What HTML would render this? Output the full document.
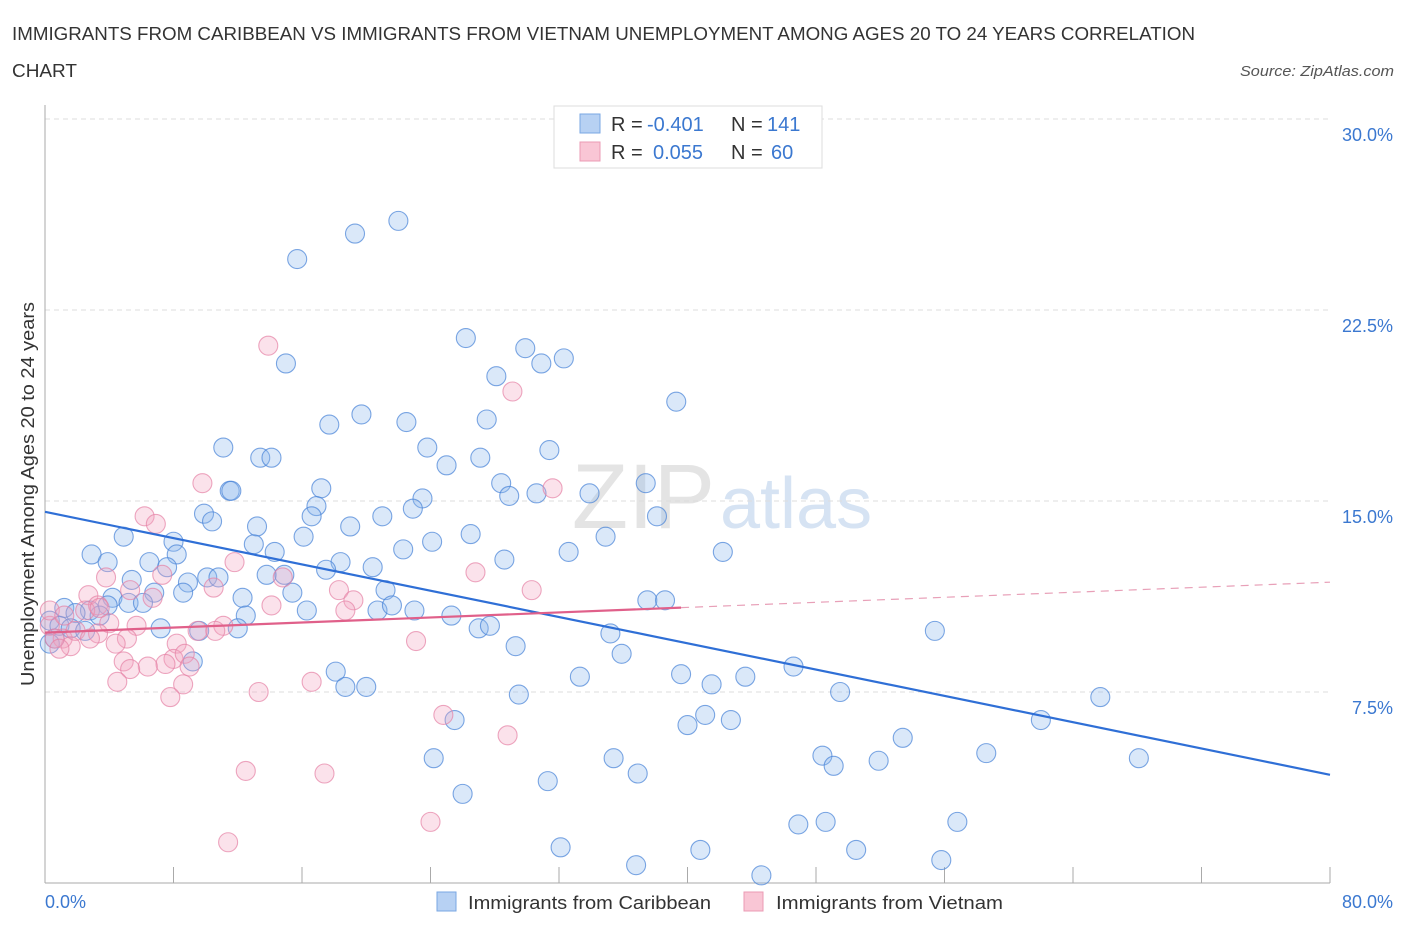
<!DOCTYPE html>
<html><head><meta charset="utf-8"><style>
body{margin:0;background:#fff;font-family:"Liberation Sans",sans-serif;}
svg text{font-family:"Liberation Sans",sans-serif;}
</style></head><body>
<svg id="chart" width="1406" height="930" xmlns="http://www.w3.org/2000/svg">
<text x="12" y="40" font-size="18" fill="#333" textLength="1183" lengthAdjust="spacingAndGlyphs">IMMIGRANTS FROM CARIBBEAN VS IMMIGRANTS FROM VIETNAM UNEMPLOYMENT AMONG AGES 20 TO 24 YEARS CORRELATION</text>
<text x="12" y="77" font-size="18" fill="#333" textLength="65" lengthAdjust="spacingAndGlyphs">CHART</text>
<text x="1394" y="76" font-size="15" fill="#555" font-style="italic" text-anchor="end" textLength="154" lengthAdjust="spacingAndGlyphs">Source: ZipAtlas.com</text>
<text x="715" y="528" font-size="92" fill="#e4e4e4" text-anchor="end" font-family="Liberation Serif">ZIP</text>
<text x="720" y="528" font-size="72" fill="#d6e3f3">atlas</text>
<g id="grid"></g>
<g id="axes"></g>
<g id="pts"></g>
<g id="lines"></g>
<text transform="translate(34,494) rotate(-90)" font-size="18" fill="#333" text-anchor="middle" textLength="384" lengthAdjust="spacingAndGlyphs">Unemployment Among Ages 20 to 24 years</text>
<g>
<rect x="554" y="106" width="268" height="62" fill="#fff" stroke="#ddd"/>
<rect x="580" y="114" width="20" height="19" fill="#b7d1f3" stroke="#7aa7e3"/>
<rect x="580" y="142" width="20" height="19" fill="#f9c6d5" stroke="#eb9bb4"/>
<text x="611" y="131" font-size="20" fill="#333">R = <tspan x="647" fill="#3b78d0">-0.401</tspan><tspan x="731">N = </tspan><tspan x="767" fill="#3b78d0">141</tspan></text>
<text x="611" y="159" font-size="20" fill="#333">R = <tspan x="653" fill="#3b78d0">0.055</tspan><tspan x="731">N = </tspan><tspan x="771" fill="#3b78d0">60</tspan></text>
</g>
<g>
<rect x="437" y="892" width="19" height="19" fill="#b7d1f3" stroke="#7aa7e3"/>
<text x="468" y="909" font-size="18" fill="#333" textLength="243" lengthAdjust="spacingAndGlyphs">Immigrants from Caribbean</text>
<rect x="744" y="892" width="19" height="19" fill="#f9c6d5" stroke="#eb9bb4"/>
<text x="776" y="909" font-size="18" fill="#333" textLength="227" lengthAdjust="spacingAndGlyphs">Immigrants from Vietnam</text>
</g>
</svg>
<script>
const yTicks=[7.5,15,22.5,30];
const yTickLabels=["7.5%","15.0%","22.5%","30.0%"];
const xTickVals=[0,8,16,24,32,40,48,56,64,72,80];
const xEndLabels=["0.0%","80.0%"];
const blueX=[15.7,19.3,22.0,15.0,26.2,29.9,30.9,32.3,28.1,39.3,19.7,17.7,22.5,27.5,11.1,23.8,31.4,13.4,14.1,25.0,27.1,37.4,11.5,11.6,17.2,28.4,28.9,30.6,33.9,23.5,22.9,16.9,16.6,9.9,10.4,21.0,19.0,13.2,38.1,4.9,8.0,16.1,26.5,24.1,34.9,13.0,22.3,32.6,42.2,2.9,3.9,8.2,6.5,7.6,18.4,28.6,20.4,17.5,14.3,13.8,14.9,8.9,5.4,10.1,10.8,8.6,6.8,4.2,5.2,15.4,21.2,12.3,6.1,3.9,1.2,2.8,1.9,20.7,21.6,23.0,25.3,12.5,16.3,37.5,38.6,7.2,12.0,9.6,27.0,27.7,35.2,35.9,29.3,55.4,46.6,18.1,18.7,20.0,9.2,33.3,39.6,41.5,43.6,49.5,62.0,65.7,29.5,25.5,40.0,41.1,42.7,53.4,58.6,24.2,35.4,36.9,48.4,49.1,51.9,68.1,31.3,26.0,46.9,48.6,56.8,32.1,40.8,50.5,36.8,55.8,44.6,0.3,0.6,0.9,1.6,2.5,3.4,0.3];
const blueY=[24.5,25.5,26.0,20.4,21.4,21.0,20.4,20.6,19.9,18.9,18.4,18.0,18.1,18.2,17.1,17.1,17.0,16.7,16.7,16.4,16.7,15.7,15.4,15.4,15.5,15.7,15.2,15.3,15.3,15.1,14.7,14.8,14.4,14.5,14.2,14.4,14.0,14.0,14.4,13.6,13.4,13.6,13.7,13.4,13.6,13.3,13.1,13.0,13.0,12.9,12.6,12.9,12.6,12.4,12.6,12.7,12.4,12.3,13.0,12.1,12.1,11.8,11.9,12.0,12.0,11.4,11.4,11.2,11.0,11.4,11.5,11.2,11.0,10.9,10.8,10.7,10.6,10.7,10.9,10.7,10.5,10.5,10.7,11.1,11.1,10.0,10.0,9.9,10.0,10.1,9.8,9.0,9.3,9.9,8.5,8.3,7.7,7.7,8.7,8.1,8.2,7.8,8.1,7.5,6.4,7.3,7.4,6.4,6.2,6.6,6.4,5.7,5.1,4.9,4.9,4.3,5.0,4.6,4.8,4.9,4.0,3.5,2.3,2.4,2.4,1.4,1.3,1.3,0.7,0.9,0.3,10.3,9.6,10.1,10.0,9.9,10.5,9.4];
const pinkX=[13.9,29.1,9.8,6.2,6.9,11.8,31.6,26.8,3.8,7.3,5.3,6.7,14.8,2.7,18.3,10.5,30.3,3.3,19.2,14.1,18.7,4.0,3.3,9.5,5.7,11.1,8.2,10.6,5.1,1.1,1.6,4.4,4.9,8.0,7.5,6.4,8.7,9.0,5.3,4.5,8.6,7.8,13.3,16.6,23.1,24.8,28.8,12.5,17.4,24.0,11.4,0.3,0.6,1.9,0.9,2.5,3.4,0.3,1.2,2.8];
const pinkY=[21.1,19.3,15.7,14.4,14.1,12.6,15.5,12.2,12.0,12.1,11.5,11.2,12.0,11.3,11.5,11.6,11.5,10.9,11.1,10.9,10.7,10.2,9.8,9.9,10.1,10.1,9.4,9.9,9.6,9.6,9.3,9.4,8.7,8.8,8.6,8.5,9.0,8.5,8.4,7.9,7.8,7.3,7.5,7.9,9.5,6.6,5.8,4.4,4.3,2.4,1.6,10.1,9.6,9.9,9.2,10.7,10.8,10.7,10.5,9.6];
const X0=45,X1=1330,Y0=883,Y1=119;
const sx=v=>X0+(v/80)*(X1-X0);
const sy=v=>Y0-(v/30)*(Y0-Y1);
const NS="http://www.w3.org/2000/svg";
function mk(tag,attrs,parent){const e=document.createElementNS(NS,tag);for(const k in attrs)e.setAttribute(k,attrs[k]);parent.appendChild(e);return e;}
const grid=document.getElementById('grid'),axes=document.getElementById('axes'),pts=document.getElementById('pts'),lines=document.getElementById('lines');
yTicks.forEach((t,i)=>{
 const l=mk('line',{x1:X0,x2:X1,y1:sy(t),y2:sy(t),stroke:'#ddd','stroke-dasharray':'5,4'},grid);
 
 
 const tx=mk('text',{x:1393,y:sy(t)+22,'font-size':18,fill:'#3b78d0','text-anchor':'end'},grid);
 tx.textContent=yTickLabels[i];
 
 
});
const ax=mk('line',{x1:X0,x2:X0,y1:105,y2:Y0,stroke:'#aaa'},axes);


const bx=mk('line',{x1:X0,x2:X1,y1:Y0,y2:Y0,stroke:'#aaa'},axes);


xTickVals.forEach(v=>{
 const t=mk('line',{x1:sx(v),x2:sx(v),y1:Y0-16,y2:Y0,stroke:'#aaa'},axes);
 
 
});
const xl0=mk('text',{x:45,y:908,'font-size':18,fill:'#3b78d0'},axes);xl0.textContent=xEndLabels[0];


const xl1=mk('text',{x:1393,y:908,'font-size':18,fill:'#3b78d0','text-anchor':'end'},axes);xl1.textContent=xEndLabels[1];


function drawPts(xs,ys,fill,stroke,name){
 xs.forEach((x,i)=>{
  const c=mk('circle',{cx:sx(x),cy:sy(ys[i]),r:9.5,fill:fill,stroke:stroke,'stroke-width':1.1},pts);
  
  
 });
}
drawPts(blueX,blueY,'rgba(140,182,235,0.32)','rgba(70,130,215,0.7)','caribbean-point');
drawPts(pinkX,pinkY,'rgba(244,165,192,0.32)','rgba(230,130,165,0.7)','vietnam-point');
function fit(xs,ys){const n=xs.length;let mx=0,my=0;xs.forEach((x,i)=>{mx+=x;my+=ys[i];});mx/=n;my/=n;let sxy=0,sxx=0;xs.forEach((x,i)=>{sxy+=(x-mx)*(ys[i]-my);sxx+=(x-mx)*(x-mx);});const b=sxy/sxx;return [my-b*mx,b];}
const [ba,bb]=fit(blueX,blueY);
const bl=mk('line',{x1:sx(0),y1:sy(ba),x2:sx(80),y2:sy(ba+bb*80),stroke:'#2f6fd6','stroke-width':2.2},lines);


const [pa,pb]=fit(pinkX,pinkY);
const pmax=Math.max(...pinkX)+8;
const pl=mk('line',{x1:sx(0),y1:sy(pa),x2:sx(pmax),y2:sy(pa+pb*pmax),stroke:'#e0608a','stroke-width':2.2},lines);


const pd=mk('line',{x1:sx(pmax),y1:sy(pa+pb*pmax),x2:sx(80),y2:sy(pa+pb*80),stroke:'#e8a0b8','stroke-width':1.2,'stroke-dasharray':'8,6'},lines);


</script>
</body></html>
